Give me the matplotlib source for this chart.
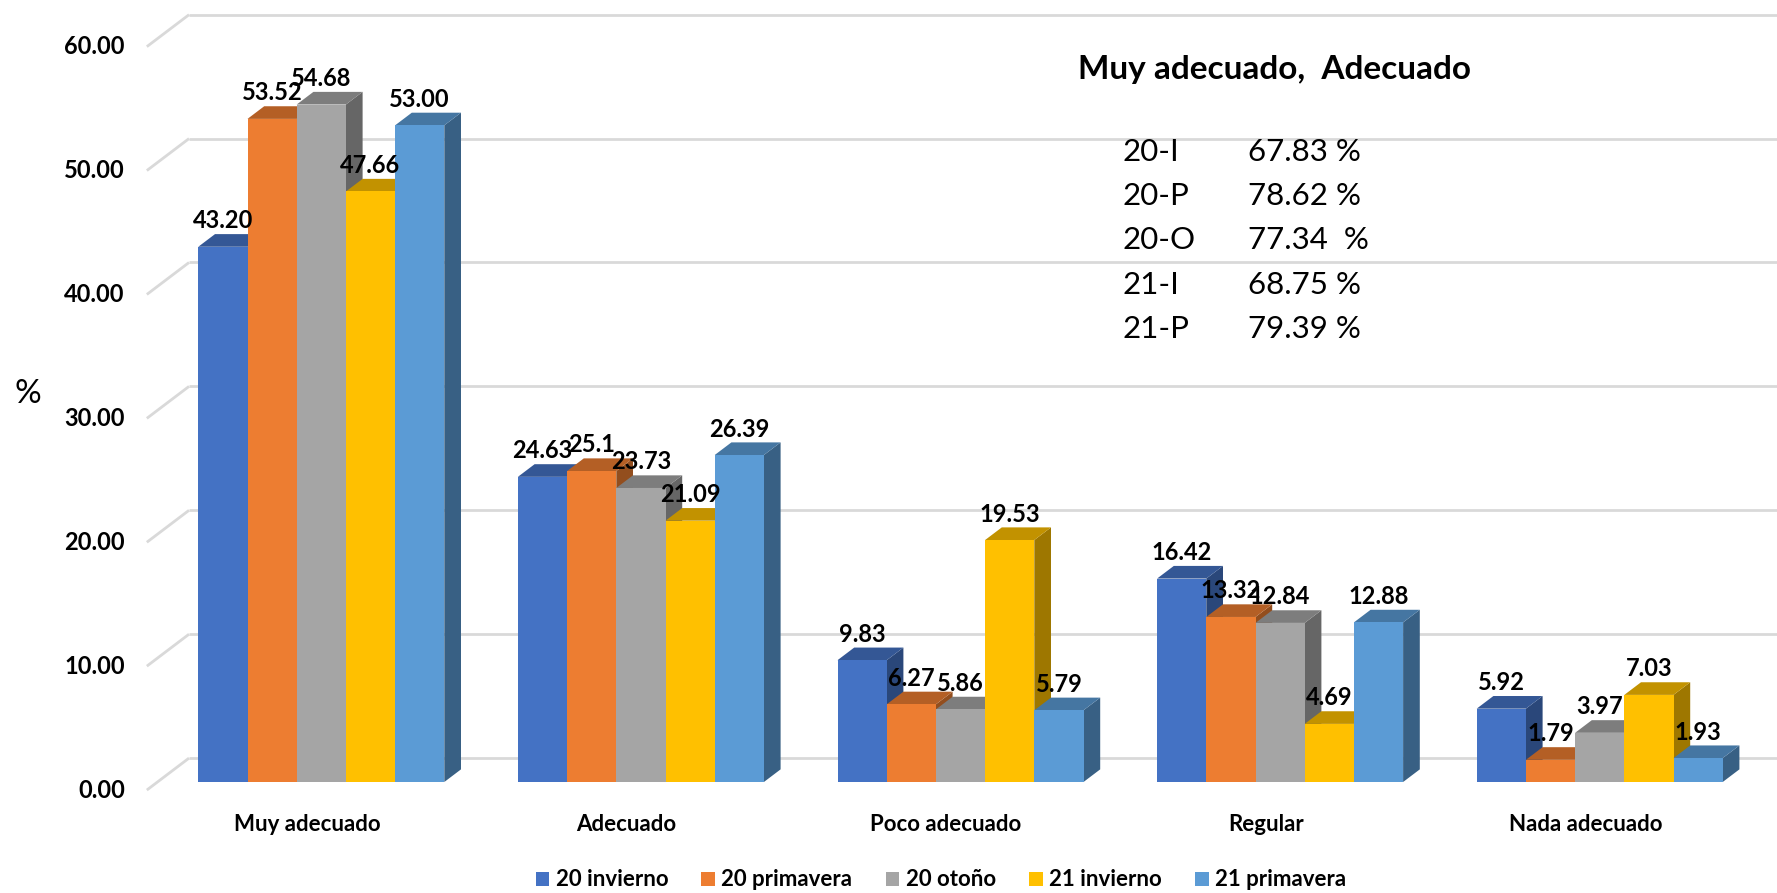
import matplotlib
matplotlib.use("Agg")
import matplotlib.pyplot as plt
from matplotlib.patches import Polygon, Patch
import numpy as np

plt.rcParams['font.family'] = ['Lato', 'DejaVu Sans']

categories = ['Muy adecuado', 'Adecuado', 'Poco adecuado', 'Regular', 'Nada adecuado']
series = ['20 invierno', '20 primavera', '20 otoño', '21 invierno', '21 primavera']
values = [
    [43.20, 24.63, 9.83, 16.42, 5.92],
    [53.52, 25.10, 6.27, 13.32, 1.79],
    [54.68, 23.73, 5.86, 12.84, 3.97],
    [47.66, 21.09, 19.53, 4.69, 7.03],
    [53.00, 26.39, 5.79, 12.88, 1.93],
]
value_labels = [
    ['43.20', '24.63', '9.83', '16.42', '5.92'],
    ['53.52', '25.1', '6.27', '13.32', '1.79'],
    ['54.68', '23.73', '5.86', '12.84', '3.97'],
    ['47.66', '21.09', '19.53', '4.69', '7.03'],
    ['53.00', '26.39', '5.79', '12.88', '1.93'],
]
colors = ['#4472C4', '#ED7D31', '#A5A5A5', '#FFC000', '#5B9BD5']
yticks = [0, 10, 20, 30, 40, 50, 60]

note_title = 'Muy adecuado,  Adecuado'
note_keys = ['20-I', '20-P', '20-O', '21-I', '21-P']
note_vals = ['67.83 %', '78.62 %', '77.34  %', '68.75 %', '79.39 %']

W, H = 1777, 893
fig = plt.figure(figsize=(W / 100, H / 100), dpi=100)
ax = fig.add_axes([0, 0, 1, 1])
ax.axis('off')

# pixel mapping: category 0 front-left at x=198.3px, 319.6px per category
# value 0 at y=782px (from top), 12.39 px per unit
px_cat, x0 = 319.6, 198.3
px_val, y0 = 12.39, 782
ax.set_xlim(-x0 / px_cat, (W - x0) / px_cat)
ax.set_ylim((y0 - H) / px_val, y0 / px_val)

bw = 49.2 / px_cat          # bar width
ddx, ddy = 16.7 / px_cat, 1.02   # bar depth offset
wall_dy = 1.93              # back wall offset
front_dy = -0.65
front_x, back_x = -0.161, -0.029


def shade(c, f):
    rgb = np.array(matplotlib.colors.to_rgb(c))
    return tuple(rgb * f)


# back wall gridlines
for v in yticks:
    ax.plot([front_x, back_x], [v + front_dy, v + wall_dy], color='#d9d9d9', lw=2, zorder=1,
            solid_capstyle='butt')
    ax.plot([back_x, ax.get_xlim()[1]], [v + wall_dy, v + wall_dy], color='#d9d9d9', lw=2,
            zorder=1, solid_capstyle='butt')
    ax.text(-0.23, v + front_dy, f'{v:.2f}', ha='right', va='center', fontsize=17,
            fontweight='bold', zorder=5)

# 3D bars
z = 2
for i in range(len(categories)):
    for j in range(len(series)):
        h = values[j][i]
        L = i + j * bw
        R = L + bw
        c = colors[j]
        front = [(L, 0), (R, 0), (R, h), (L, h)]
        top = [(L, h), (R, h), (R + ddx, h + ddy), (L + ddx, h + ddy)]
        side = [(R, 0), (R + ddx, ddy), (R + ddx, h + ddy), (R, h)]
        ax.add_patch(Polygon(side, closed=True, fc=shade(c, 0.62), ec='none', zorder=z))
        ax.add_patch(Polygon(top, closed=True, fc=shade(c, 0.76), ec='none', zorder=z))
        ax.add_patch(Polygon(front, closed=True, fc=c, ec='none', zorder=z))
        z += 0.01

for i in range(len(categories)):
    for j in range(len(series)):
        h = values[j][i]
        ax.text(i + j * bw + bw / 2, h + 2.1, value_labels[j][i], ha='center', va='center',
                fontsize=17, fontweight='bold', zorder=10)
    ax.text(i + 2.5 * bw - 0.045, -3.39, categories[i], ha='center', va='center',
            fontsize=16, fontweight='bold', zorder=10)

# y axis title
fig.text(28 / W, 1 - 394 / H, '%', ha='center', va='center', fontsize=24)

# annotation block
fig.text(1078 / W, 1 - 69 / H, note_title, ha='left', va='center', fontsize=24,
         fontweight='bold')
row_y = [152, 196, 240, 285, 329]
for k, v, ry in zip(note_keys, note_vals, row_y):
    fig.text(1123 / W, 1 - ry / H, k, ha='left', va='center', fontsize=22.5)
    fig.text(1248 / W, 1 - ry / H, v, ha='left', va='center', fontsize=22.5)

handles = [Patch(facecolor=c, edgecolor='none', label=s) for c, s in zip(colors, series)]
leg = fig.legend(handles=handles, loc='center', bbox_to_anchor=(941 / W, 1 - 880 / H),
                 ncol=5, frameon=False, handlelength=0.6, handleheight=0.6,
                 handletextpad=0.3, columnspacing=1.5, prop={'size': 16, 'weight': 'bold'})

fig.savefig('out.png', dpi=100)
